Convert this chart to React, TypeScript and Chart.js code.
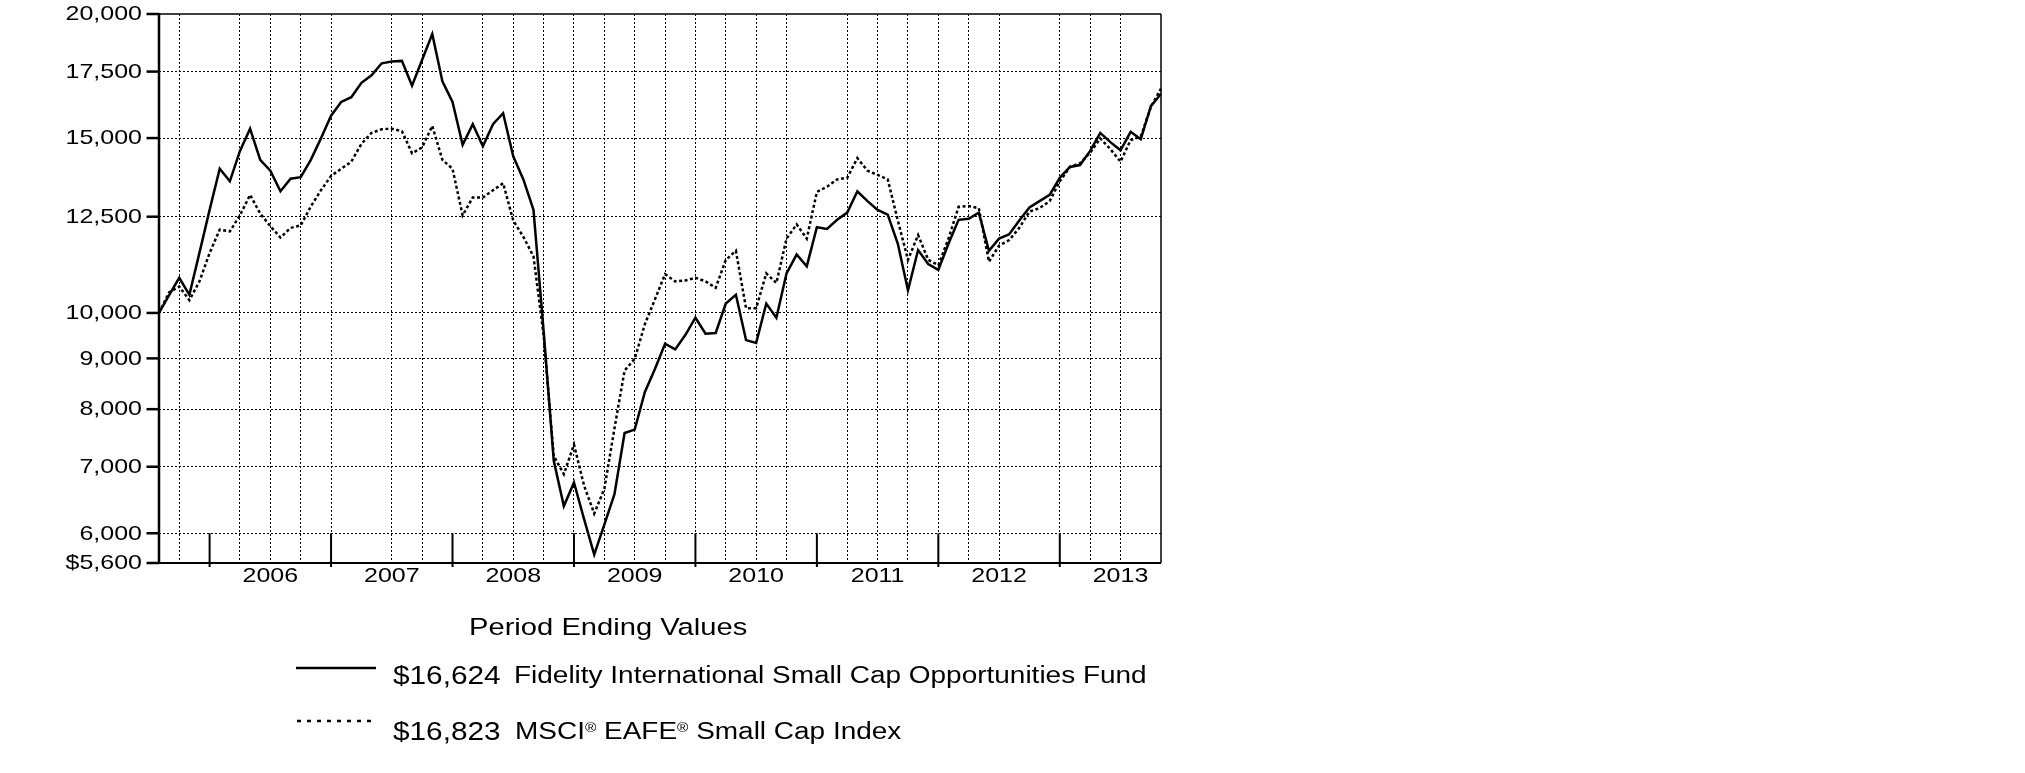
import React, { useEffect, useRef } from 'react';
import { Chart, registerables } from 'chart.js';

Chart.register(...registerables);

// Month-end categories (Jul 2005 = start value)
const MONTHS: string[] = [
  '2005-07', '2005-08', '2005-09', '2005-10', '2005-11', '2005-12',
  '2006-01', '2006-02', '2006-03', '2006-04', '2006-05', '2006-06', '2006-07', '2006-08', '2006-09', '2006-10', '2006-11', '2006-12',
  '2007-01', '2007-02', '2007-03', '2007-04', '2007-05', '2007-06', '2007-07', '2007-08', '2007-09', '2007-10', '2007-11', '2007-12',
  '2008-01', '2008-02', '2008-03', '2008-04', '2008-05', '2008-06', '2008-07', '2008-08', '2008-09', '2008-10', '2008-11', '2008-12',
  '2009-01', '2009-02', '2009-03', '2009-04', '2009-05', '2009-06', '2009-07', '2009-08', '2009-09', '2009-10', '2009-11', '2009-12',
  '2010-01', '2010-02', '2010-03', '2010-04', '2010-05', '2010-06', '2010-07', '2010-08', '2010-09', '2010-10', '2010-11', '2010-12',
  '2011-01', '2011-02', '2011-03', '2011-04', '2011-05', '2011-06', '2011-07', '2011-08', '2011-09', '2011-10', '2011-11', '2011-12',
  '2012-01', '2012-02', '2012-03', '2012-04', '2012-05', '2012-06', '2012-07', '2012-08', '2012-09', '2012-10', '2012-11', '2012-12',
  '2013-01', '2013-02', '2013-03', '2013-04', '2013-05', '2013-06', '2013-07', '2013-08', '2013-09', '2013-10',
];

// Fidelity International Small Cap Opportunities Fund ($10,000 hypothetical)
const FUND: number[] = [
  10000, 10420, 10850, 10430, 11500, 12700,
  13970, 13570, 14560, 15330, 14260, 13910, 13260, 13650, 13700, 14260, 14990, 15800,
  16310, 16490, 17050, 17350, 17840, 17910, 17940, 16940, 17990, 19090, 17110, 16310,
  14770, 15490, 14720, 15490, 15890, 14380, 13630, 12700, 9600, 7100, 6390, 6750,
  6200, 5710, 6120, 6570, 7570, 7630, 8320, 8780, 9310, 9190, 9500, 9890,
  9530, 9545, 10220, 10430, 9390, 9330, 10220, 9890, 10960, 11450, 11140, 12200,
  12150, 12410, 12620, 13260, 12960, 12700, 12560, 11740, 10540, 11570, 11200, 11050,
  11740, 12410, 12440, 12620, 11550, 11880, 12000, 12390, 12770, 12960, 13150, 13680,
  14030, 14090, 14560, 15180, 14860, 14580, 15220, 14960, 16150, 16624,
];

// MSCI EAFE Small Cap Index
const INDEX: number[] = [
  10000, 10490, 10630, 10300, 10760, 11490,
  12130, 12080, 12540, 13150, 12590, 12230, 11910, 12180, 12250, 12800, 13290, 13740,
  13970, 14200, 14800, 15180, 15310, 15330, 15240, 14480, 14680, 15430, 14260, 13970,
  12540, 13070, 13070, 13290, 13510, 12390, 11930, 11400, 9500, 7180, 6880, 7370,
  6700, 6280, 6650, 7650, 8750, 8990, 9740, 10320, 10940, 10760, 10780, 10850,
  10760, 10600, 11310, 11550, 10110, 10110, 10960, 10720, 11880, 12280, 11880, 13240,
  13400, 13630, 13680, 14320, 13910, 13770, 13630, 12390, 11310, 11980, 11310, 11170,
  11880, 12790, 12810, 12750, 11260, 11690, 11840, 12180, 12650, 12750, 12960, 13570,
  14030, 14150, 14500, 14990, 14620, 14200, 14930, 15050, 16120, 16823,
];

const Y_TICKS: number[] = [5600, 6000, 7000, 8000, 9000, 10000, 12500, 15000, 17500, 20000];
const Y_TICK_LABELS: string[] = ['$5,600', '6,000', '7,000', '8,000', '9,000', '10,000', '12,500', '15,000', '17,500', '20,000'];
const Y_GRID: number[] = [6000, 7000, 8000, 9000, 10000, 12500, 15000, 17500];

const X_GRID: string[] = [
  '2005-09', '2006-03', '2006-06', '2006-09', '2006-12', '2007-06', '2007-09', '2008-03', '2008-06',
  '2008-09', '2008-12', '2009-03', '2009-06', '2009-09', '2009-12', '2010-03', '2010-06', '2010-09',
  '2011-03', '2011-06', '2011-09', '2011-12', '2012-03', '2012-06', '2012-12', '2013-03', '2013-06',
];
const YEAR_ENDS: string[] = ['2005-12', '2006-12', '2007-12', '2008-12', '2009-12', '2010-12', '2011-12', '2012-12'];
const YEAR_LABELS: string[] = ['2006', '2007', '2008', '2009', '2010', '2011', '2012', '2013'];
const YEAR_LABEL_MONTHS: string[] = ['2006-06', '2007-06', '2008-06', '2009-06', '2010-06', '2011-06', '2012-06', '2013-06'];

const FUND_LEGEND = '$16,624';
const FUND_NAME = 'Fidelity International Small Cap Opportunities Fund';
const INDEX_LEGEND = '$16,823';
const TITLE = 'Period Ending Values';

const FONT = '"Liberation Sans", Arial, Helvetica, sans-serif';
const SX = 1.19;

const overlay = {
  id: 'overlay',
  afterDraw(chart: any) {
    const { ctx, chartArea: a, scales } = chart;
    const xs = scales.x;
    const ys = scales.y;
    ctx.save();
    ctx.strokeStyle = '#000';
    ctx.fillStyle = '#000';
    ctx.setLineDash([]);
    const line = (x1: number, y1: number, x2: number, y2: number, w: number) => {
      ctx.lineWidth = w;
      ctx.beginPath();
      ctx.moveTo(x1, y1);
      ctx.lineTo(x2, y2);
      ctx.stroke();
    };
    // frame
    line(a.left, a.top, a.right, a.top, 1.5);
    line(a.right, a.top, a.right, a.bottom, 1.5);
    line(a.left, a.top - 1, a.left, a.bottom + 1, 2.5);
    line(a.left, a.bottom, a.right, a.bottom, 2);

    const text = (s: string, x: number, y: number, align: string, baseline: string) => {
      ctx.save();
      ctx.translate(x, y);
      ctx.scale(SX, 1);
      ctx.textAlign = align;
      ctx.textBaseline = baseline;
      ctx.fillText(s, 0, 0);
      ctx.restore();
    };

    ctx.font = `21px ${FONT}`;
    Y_TICKS.forEach((v, k) => {
      const y = ys.getPixelForValue(v);
      line(a.left - 12.5, y, a.left, y, 2.5);
      text(Y_TICK_LABELS[k], a.left - 17, y + 0.5, 'right', 'middle');
    });

    const y6 = ys.getPixelForValue(6000);
    YEAR_ENDS.forEach((m) => {
      const x = xs.getPixelForValue(MONTHS.indexOf(m));
      line(x, y6, x, a.bottom + 4, 2);
    });

    YEAR_LABELS.forEach((lab, k) => {
      const x = xs.getPixelForValue(MONTHS.indexOf(YEAR_LABEL_MONTHS[k]));
      text(lab, x, a.bottom + 19, 'center', 'alphabetic');
    });
    ctx.restore();
  },
};

export default function App() {
  const ref = useRef<HTMLCanvasElement | null>(null);

  useEffect(() => {
    const canvas = ref.current;
    if (!canvas) return;
    const gridOpts = { display: true, color: '#000', lineWidth: 1, drawTicks: false, offset: false };
    const chart = new Chart(canvas, {
      type: 'line',
      data: {
        labels: MONTHS,
        datasets: [
          {
            label: FUND_NAME,
            data: FUND,
            borderColor: '#000',
            borderWidth: 2.5,
            pointRadius: 0,
            tension: 0,
            fill: false,
          },
          {
            label: 'MSCI EAFE Small Cap Index',
            data: INDEX,
            borderColor: '#000',
            borderWidth: 2.5,
            borderDash: [3, 2.5],
            pointRadius: 0,
            tension: 0,
            fill: false,
          },
        ],
      },
      options: {
        animation: false,
        responsive: false,
        devicePixelRatio: 1,
        events: [],
        layout: { padding: { left: 159, right: 864, top: 14, bottom: 210 } },
        plugins: { legend: { display: false }, tooltip: { enabled: false }, title: { display: false } },
        scales: {
          x: {
            type: 'category',
            offset: false,
            grid: gridOpts,
            border: { display: false, dash: [2, 2] },
            ticks: { display: false },
            afterBuildTicks: (s: any) => {
              s.ticks = X_GRID.map((m) => ({ value: MONTHS.indexOf(m) }));
            },
            afterFit: (s: any) => {
              s.height = 0;
            },
          },
          y: {
            type: 'logarithmic',
            min: 5600,
            max: 20000,
            grid: gridOpts,
            border: { display: false, dash: [2, 2] },
            ticks: { display: false },
            afterBuildTicks: (s: any) => {
              s.ticks = Y_GRID.map((v) => ({ value: v }));
            },
            afterFit: (s: any) => {
              s.width = 0;
            },
          },
        },
      },
      plugins: [overlay],
    } as any);
    return () => chart.destroy();
  }, []);

  const txt = (fs: number): React.CSSProperties => ({
    position: 'absolute',
    fontFamily: FONT,
    fontSize: fs,
    lineHeight: `${fs}px`,
    whiteSpace: 'nowrap',
    transform: `scaleX(${SX})`,
    transformOrigin: 'left top',
    color: '#000',
  });

  return (
    <div style={{ position: 'absolute', left: 0, top: 0, width: 2025, height: 773, background: '#fff', overflow: 'hidden' }}>
      <canvas ref={ref} width={2025} height={773} style={{ position: 'absolute', left: 0, top: 0, width: 2025, height: 773 }} />
      <div style={{ ...txt(24.5), left: 469, top: 615 }}>{TITLE}</div>

      <svg style={{ position: 'absolute', left: 296, top: 664 }} width={82} height={8}>
        <line x1={0} y1={4} x2={80} y2={4} stroke="#000" strokeWidth={2.5} />
      </svg>
      <div style={{ ...txt(25), left: 393, top: 663 }}>{FUND_LEGEND}</div>
      <div style={{ ...txt(23.5), left: 514, top: 664 }}>{FUND_NAME}</div>

      <svg style={{ position: 'absolute', left: 297, top: 717 }} width={82} height={8}>
        <line x1={0} y1={4} x2={74} y2={4} stroke="#000" strokeWidth={2.5} strokeDasharray="4 6" />
      </svg>
      <div style={{ ...txt(25), left: 393, top: 719 }}>{INDEX_LEGEND}</div>
      <div style={{ ...txt(23.5), left: 515, top: 720 }}>
        MSCI<sup style={{ fontSize: '55%', verticalAlign: '0.55em', lineHeight: 0 }}>®</sup> EAFE
        <sup style={{ fontSize: '55%', verticalAlign: '0.55em', lineHeight: 0 }}>®</sup> Small Cap Index
      </div>
    </div>
  );
}
